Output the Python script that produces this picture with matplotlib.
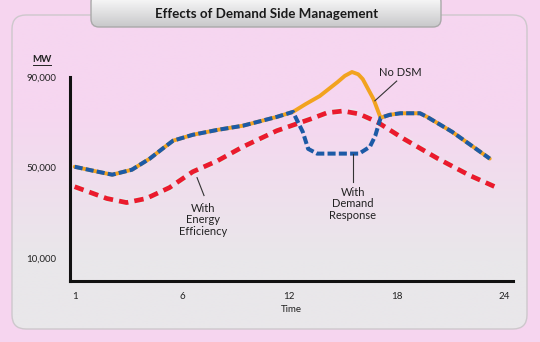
import matplotlib
matplotlib.use('Agg')
import matplotlib.pyplot as plt
import numpy as np
from matplotlib.patches import FancyBboxPatch
import matplotlib.patheffects as pe

plt.rcParams['font.family'] = ['Lato', 'DejaVu Sans']

# ---------------- data (hour position, MW) ----------------
hours_nodsm = [0, 1.0, 2.1, 3.2, 4.2, 4.9, 5.5, 6.6, 8.0, 9.4, 11.3, 12.2,
               12.9, 13.7, 14.7, 15.1, 15.5, 15.85, 16.1, 16.7, 17.1, 17.6, 18.2, 19.3, 19.7, 21.1, 23.2]
mw_nodsm = [50400, 48700, 46900, 49100, 54000, 58300, 61900, 64500, 66700, 68500, 72400, 74600,
            78000, 81600, 87800, 90500, 92200, 91200, 89100, 80300, 72000, 73300, 74000, 74000,
            72400, 65800, 54000]

hours_dr = [0, 1.0, 2.1, 3.2, 4.2, 4.9, 5.5, 6.6, 8.0, 9.4, 11.3, 12.2,
            12.75, 13.05, 13.55, 15.9, 16.5, 16.8, 17.1, 17.6, 18.2, 19.3, 19.7, 21.1, 23.2]
mw_dr = [50400, 48700, 46900, 49100, 54000, 58300, 61900, 64500, 66700, 68500, 72400, 74600,
         65800, 58300, 56200, 56200, 59200, 64000, 72000, 73300, 74000, 74000, 72400, 65800, 54000]

hours_ee = [0, 1.8, 2.9, 4.0, 5.3, 6.6, 8.0, 9.4, 11.3, 13.2, 14.1, 15.0, 15.9, 16.9,
            18.4, 20.3, 22.1, 23.6]
mw_ee = [41600, 36400, 34600, 36400, 41200, 48200, 53100, 59200, 66300, 71500, 74200, 75000,
         73700, 70200, 62700, 54000, 46500, 41200]

xtick_pos = [0, 6, 12, 18, 24]
xtick_labels = ['1', '6', '12', '18', '24']
ytick_vals = [10000, 50000, 90000]
ytick_labels = ['10,000', '50,000', '90,000']

title = 'Effects of Demand Side Management'

# ---------------- figure & decorative background ----------------
W, H = 540, 342
fig = plt.figure(figsize=(W / 100, H / 100), dpi=100)
fig.patch.set_facecolor('#f6d5ef')

bg = fig.add_axes([0, 0, 1, 1])
bg.set_xlim(0, W)
bg.set_ylim(H, 0)
bg.axis('off')

panel = FancyBboxPatch((12, 15), 515, 314, boxstyle='round,pad=0,rounding_size=14',
                       facecolor='none', edgecolor='#cdc8cc', lw=1.0, zorder=2)
bg.add_patch(panel)
top_c = np.array([246, 214, 240]) / 255
bot_c = np.array([233, 231, 234]) / 255
ys = np.linspace(15, 329, 256)
t = np.clip((ys - 110) / 150, 0, 1)
img = (top_c[None, :] * (1 - t[:, None]) + bot_c[None, :] * t[:, None])[:, None, :]
im = bg.imshow(img, extent=(12, 527, 329, 15), aspect='auto', zorder=1, interpolation='bilinear')
im.set_clip_path(panel)

tbox = FancyBboxPatch((91, -6), 350, 33, boxstyle='round,pad=0,rounding_size=8',
                      facecolor='none', edgecolor='#a9a9a9', lw=1.0, zorder=4)
bg.add_patch(tbox)
ty = np.linspace(0, 1, 64)
timg = (np.array([1, 1, 1])[None, :] * (1 - ty[:, None]) +
        np.array([200, 200, 202])[None, :] / 255 * ty[:, None])[:, None, :]
tim = bg.imshow(timg, extent=(91, 441, 27, -6), aspect='auto', zorder=3, interpolation='bilinear')
tim.set_clip_path(tbox)
bg.text(267, 14, title, ha='center', va='center', fontsize=9.6, fontweight='bold',
        color='#1a1a1a', zorder=5)

# MW label (underlined)
bg.text(42, 60, 'MW', ha='center', va='center', fontsize=7, fontweight='bold', color='#222')
bg.plot([33, 51], [65, 65], color='#222', lw=0.7)

# ---------------- main axes ----------------
ax = fig.add_axes([70 / W, 1 - 281 / H, 443 / W, 204 / H])
ax.patch.set_alpha(0)
ax.set_xlim(-0.26, 24.5)
ax.set_ylim(0, 90000)
for s in ['top', 'right']:
    ax.spines[s].set_visible(False)
for s in ['left', 'bottom']:
    ax.spines[s].set_linewidth(2.2)
    ax.spines[s].set_color('#111')
ax.set_xticks(xtick_pos)
ax.set_xticklabels(xtick_labels)
ax.set_yticks(ytick_vals)
ax.set_yticklabels(ytick_labels)
ax.tick_params(axis='both', length=0, labelsize=7, colors='#222')
ax.tick_params(axis='x', pad=8)
ax.tick_params(axis='y', pad=10)
ax.set_xlabel('Time', fontsize=7, color='#222', labelpad=3)

halo = [pe.Stroke(linewidth=5.5, foreground='#e4f0f0', alpha=0.6), pe.Normal()]
ax.plot(hours_ee, mw_ee, color='#ea1b2d', lw=3.4, dashes=(2.0, 1.3), clip_on=False,
        zorder=3, path_effects=halo)
ax.plot(hours_nodsm, mw_nodsm, color='#f2a31f', lw=2.8, solid_capstyle='round',
        solid_joinstyle='round', clip_on=False, zorder=4)
ax.plot(hours_dr, mw_dr, color='#1c5aa6', lw=2.9, dashes=(2.0, 0.8), clip_on=False, zorder=5)

# annotations
ax.plot([18.0, 16.78], [88200, 79500], color='#333', lw=0.8, zorder=6)
ax.text(18.2, 92000, 'No DSM', ha='center', va='center', fontsize=8, color='#222')

ax.plot([15.55, 15.55], [56200, 43800], color='#333', lw=0.8, zorder=6)
ax.text(15.55, 41600, 'With\nDemand\nResponse', ha='center', va='top', fontsize=8,
        color='#222', linespacing=1.05)

ax.plot([6.84, 7.23], [45600, 37700], color='#333', lw=0.8, zorder=6)
ax.text(7.2, 34500, 'With\nEnergy\nEfficiency', ha='center', va='top', fontsize=8,
        color='#222', linespacing=1.05)

fig.savefig('out.png', dpi=100, facecolor=fig.get_facecolor())
